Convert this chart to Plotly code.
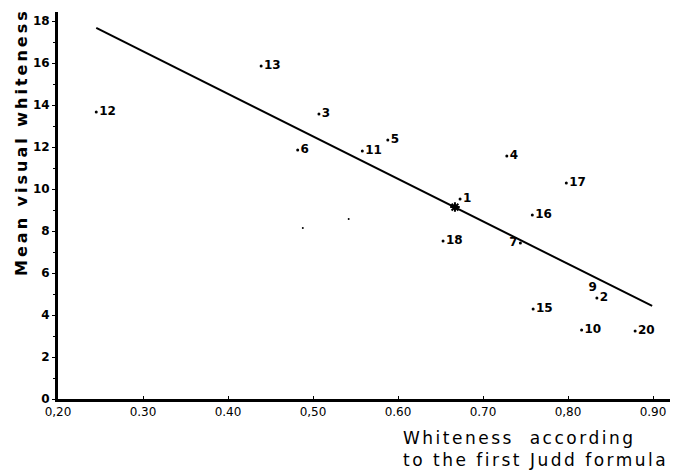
import plotly.graph_objects as go

# Data
point_labels = ["1", "2", "3", "4", "5", "6", "7", "10", "11", "12", "13", "15", "16", "17", "18", "20"]
judd_whiteness = [0.673, 0.834, 0.507, 0.728, 0.588, 0.482, 0.744, 0.816, 0.558, 0.245, 0.439, 0.759, 0.758, 0.798, 0.653, 0.879]
visual_whiteness = [9.52, 4.81, 13.57, 11.57, 12.33, 11.86, 7.43, 3.29, 11.81, 13.67, 15.86, 4.29, 8.76, 10.29, 7.52, 3.24]
label_side = ["middle right"] * 6 + ["middle left"] + ["middle right"] * 9

# sample 9 (label only, sits above 2)
p9_x = [0.829]
p9_y = [5.29]

# fitted line end points and mean point
fit_x = [0.245, 0.899]
fit_y = [17.67, 4.43]
mean_x = [0.667]
mean_y = [9.14]

# stray specks in the original figure
speck_x = [0.488, 0.542]
speck_y = [8.14, 8.57]

x_ticks = [0.2, 0.3, 0.4, 0.5, 0.6, 0.7, 0.8, 0.9]
x_tick_text = ["0,20", "0.30", "0.40", "0,50", "0.60", "0.70", "0,80", "0.90"]
y_ticks = [0, 2, 4, 6, 8, 10, 12, 14, 16, 18]

FONT = "DejaVu Sans"

fig = go.Figure()
fig.add_trace(go.Scatter(x=fit_x, y=fit_y, mode="lines",
                         line=dict(color="black", width=2), hoverinfo="skip"))
fig.add_trace(go.Scatter(x=judd_whiteness, y=visual_whiteness, mode="markers+text",
                         text=[f"<b>{t}</b>" for t in point_labels], textposition=label_side,
                         textfont=dict(family=FONT, size=12, color="black"),
                         marker=dict(color="black", size=3)))
fig.add_trace(go.Scatter(x=p9_x, y=p9_y, mode="text", text=["<b>9</b>"],
                         textposition="middle center",
                         textfont=dict(family=FONT, size=12, color="black")))
fig.add_trace(go.Scatter(x=mean_x, y=mean_y, mode="markers",
                         marker=dict(symbol="asterisk-open", size=8, color="black",
                                     line=dict(color="black", width=2))))
fig.add_trace(go.Scatter(x=speck_x, y=speck_y, mode="markers",
                         marker=dict(color="black", size=2)))

fig.update_layout(
    width=675, height=471,
    margin=dict(l=58, r=5, t=12, b=72),
    paper_bgcolor="white", plot_bgcolor="white",
    showlegend=False,
    font=dict(family=FONT, color="black"),
)
fig.update_xaxes(range=[0.2, 0.92], tickvals=x_ticks, ticktext=x_tick_text,
                 automargin=False,
                 showgrid=False, zeroline=False, showline=True, linecolor="black",
                 linewidth=3, ticks="inside", ticklen=3, tickcolor="black",
                 tickfont=dict(family=FONT, size=12, color="black"))
fig.update_yaxes(range=[0, 18.43], tickvals=y_ticks,
                 automargin=False,
                 showgrid=False, zeroline=False, showline=True, linecolor="black",
                 linewidth=3, ticks="outside", ticklen=3, tickcolor="black",
                 minor=dict(dtick=1, ticks="outside", ticklen=2, tickcolor="black"),
                 tickfont=dict(family=FONT, size=12, color="black", weight="bold"))

fig.add_annotation(text='<span style="letter-spacing:3px"><b>Mean visual whiteness</b></span>',
                   textangle=-90,
                   xref="paper", yref="paper", x=-0.06, y=0.665,
                   xanchor="center", yanchor="middle", showarrow=False,
                   font=dict(family=FONT, size=16, color="black"))
fig.add_annotation(text='<span style="letter-spacing:2.5px">Whiteness  according</span><br>'
                        '<span style="letter-spacing:2.5px">to the first Judd formula</span>',
                   xref="paper", yref="paper", x=1.0, y=-0.07,
                   xanchor="right", yanchor="top", align="left", showarrow=False,
                   font=dict(family=FONT, size=17, color="black"))

fig.write_html("out.html", config={"displayModeBar": False},
               post_script="document.body.style.margin='0';")
